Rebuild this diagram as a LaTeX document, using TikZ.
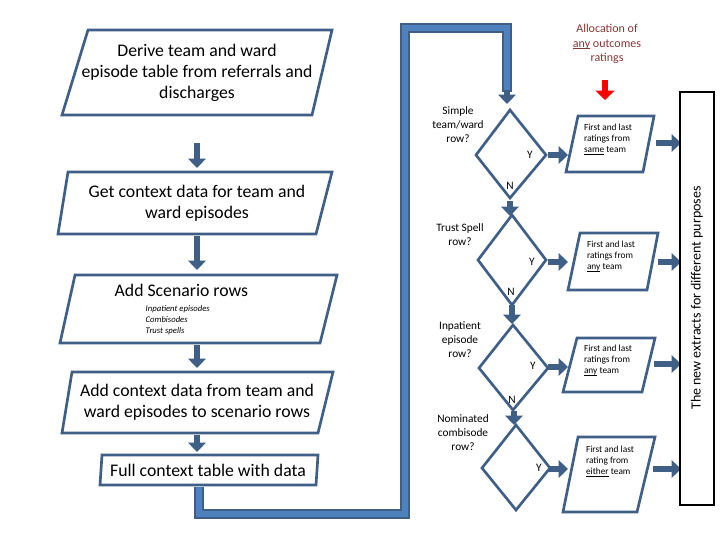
\documentclass[tikz,border=0pt]{standalone}
\usepackage{fontspec}
\setmainfont{Carlito}
\usetikzlibrary{arrows.meta}
\definecolor{bord}{HTML}{3F5F86}
\definecolor{barr}{HTML}{4F81BD}
\definecolor{redt}{HTML}{C0504D}
\newcommand{\myul}[1]{\setbox0\hbox{#1}\rlap{\rule[-1.3pt]{\wd0}{0.45pt}}#1}
\begin{document}
\begin{tikzpicture}[x=0.75pt,y=-0.75pt,
  shp/.style={draw=bord,line width=2pt,fill=white,line join=miter},
  barrow/.style={draw=bord,line width=5pt,-{Triangle[width=13pt,length=7pt]}},
  big/.style={font=\fontsize{13.3}{15.5}\selectfont,align=center},
  lab/.style={font=\fontsize{8.5}{10.5}\selectfont,align=center},
  sm/.style={font=\fontsize{7}{8.5}\selectfont,align=left},
  yn/.style={font=\fontsize{8.5}{10}\selectfont}]
\useasboundingbox (0,0) rectangle (720,540);
\fill[white] (0,0) rectangle (720,540);
% left parallelograms
\draw[shp] (88,30)--(332,30)--(312,115)--(62,115)--cycle;
\node[big] (derive) at (197,73) {Derive team and ward\\episode table from referrals and\\discharges};
\draw[shp] (68,172)--(332,172)--(316,234)--(58,234)--cycle;
\node[big] (ctx) at (197,203) {Get context data for team and\\ward episodes};
\draw[shp] (75,275)--(337,275)--(320,343)--(60,343)--cycle;
\node[big,anchor=west] (scen) at (110,290) {Add Scenario rows};
\node[font=\fontsize{6.5}{8}\selectfont\itshape,align=left,anchor=north west] (scenl) at (141,301) {Inpatient episodes\\Combisodes\\Trust spells};
\draw[shp] (72,372)--(333,372)--(318,433)--(62,433)--cycle;
\node[big] (add) at (197,402) {Add context data from team and\\ward episodes to scenario rows};
\draw[shp] (102,455)--(318,455)--(316,485)--(100,485)--cycle;
\node[big] (full) at (208,470) {Full context table with data};
\coordinate (a1) at (197,143); \coordinate (a2) at (197,168);
\coordinate (b1) at (197,236); \coordinate (b2) at (197,270);
\coordinate (c1) at (197,345); \coordinate (c2) at (197,368);
\coordinate (d1) at (197,435); \coordinate (d2) at (197,452);
\draw[barrow] (a1)--(a2); \draw[barrow] (b1)--(b2);
\draw[barrow] (c1)--(c2); \draw[barrow] (d1)--(d2);
% big connector
\coordinate (p0) at (199,487); \coordinate (p1) at (199,514);
\coordinate (p2) at (405,514); \coordinate (p3) at (405,28);
\coordinate (p4) at (507,28); \coordinate (p5) at (507,104);
\draw[bord,line width=7pt,line join=miter] (p0)--(p1)--(p2)--(p3)--(p4)--(507,92);
\draw[barr,line width=4pt,line join=miter] (p0)--(p1)--(p2)--(p3)--(p4)--(507,92);
\draw[barrow] (507,90)--(p5);
% diamonds
\draw[shp] (510,110)--(546,155)--(510,198)--(476,155)--cycle;
\draw[shp] (512,215)--(546,260)--(512,305)--(478,260)--cycle;
\draw[shp] (513,325)--(548,368)--(513,410)--(479,368)--cycle;
\draw[shp] (516,425)--(550,468)--(516,510)--(482,468)--cycle;
\node[lab] (q1) at (458,125) {Simple\\team/ward\\row?};
\node[lab] (q2) at (460,235) {Trust Spell\\row?};
\node[lab] (q3) at (460,340) {Inpatient\\episode\\row?};
\node[lab] (q4) at (463,433) {Nominated\\combisode\\row?};
\node[yn] (y1) at (530,155) {Y}; \node[yn] (y2) at (532,262) {Y};
\node[yn] (y3) at (533,366) {Y}; \node[yn] (y4) at (539,468) {Y};
\node[yn] (n1) at (510,186) {N}; \node[yn] (n2) at (511,292) {N};
\node[yn] (n3) at (512,400) {N};
\draw[barrow] (510,201)--(510,216);
\draw[barrow] (512,305)--(512,324);
\draw[barrow] (514,411)--(514,425);
% right parallelograms
\draw[shp] (578,116)--(654,116)--(643,172)--(566,172)--cycle;
\node[sm] (r1) at (608,139) {First and last\\ratings from\\\myul{same} team};
\draw[shp] (580,233)--(658,233)--(647,290)--(568,290)--cycle;
\node[sm] (r2) at (611,256) {First and last\\ratings from\\\myul{any} team};
\draw[shp] (577,338)--(655,338)--(642,392)--(563,392)--cycle;
\node[sm] (r3) at (608,360) {First and last\\ratings from\\\myul{any} team};
\draw[shp] (578,437)--(655,437)--(637,512)--(563,512)--cycle;
\node[sm] (r4) at (610,461) {First and last\\rating from\\\myul{either} team};
\foreach \y in {155,262,367,469}{\draw[barrow] (548,\y)--(568,\y);}
\foreach \y/\x in {143/656,262/658,364/654,469/653}{\draw[barrow] (\x,\y)--(681,\y);}
% right box
\draw[black,line width=1pt] (680,92) rectangle (714,505);
\node[font=\fontsize{10.5}{12}\selectfont,rotate=90] (ext) at (697,298) {The new extracts for different purposes};
% allocation
\node[font=\fontsize{9}{11}\selectfont,text=redt!70!black,align=center] (alloc) at (607,44) {Allocation of\\\myul{any} outcomes\\ratings};
\draw[red,line width=5pt,-{Triangle[width=14pt,length=7pt]}] (605,80)--(605,100);
\end{tikzpicture}
\end{document}
